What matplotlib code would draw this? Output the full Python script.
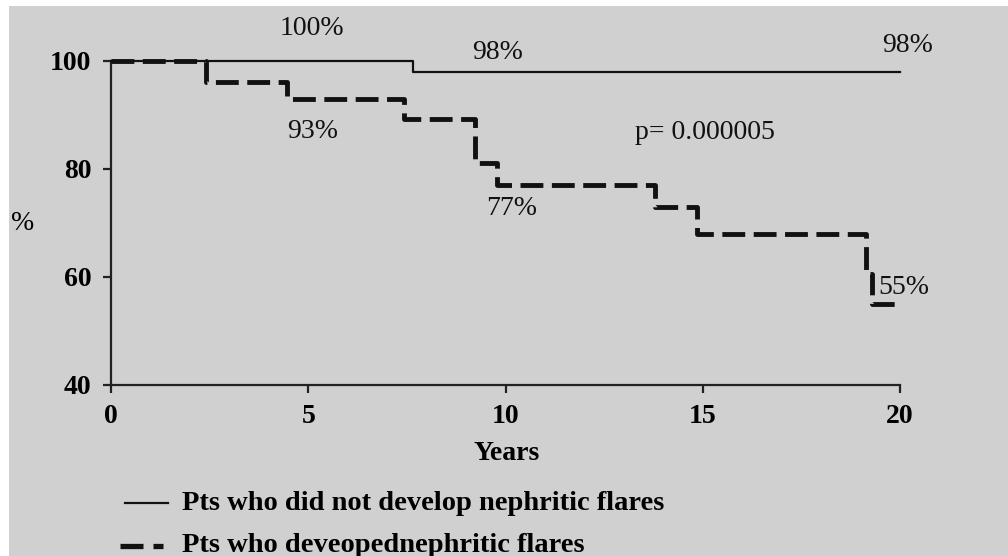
import matplotlib
matplotlib.use("Agg")
import matplotlib.pyplot as plt
from matplotlib.lines import Line2D
from matplotlib.patches import Rectangle

# Kaplan-Meier style survival data (years, % free of renal event)
no_flare_years = [0, 7.65, 20]
no_flare_pct = [100, 98, 98]

flare_years = [0, 2.42, 4.47, 7.43, 9.23, 9.78, 13.79, 14.85, 19.13, 19.30, 20]
flare_pct = [100, 96.2, 93, 89.2, 81.1, 77, 73, 68, 60.6, 55, 55]

x_ticks = [0, 5, 10, 15, 20]
y_ticks = [40, 60, 80, 100]

# value annotations: (text, year, y)
annotations = [
    ("100%", 5.1, 106.0),
    ("98%", 9.8, 101.6),
    ("98%", 20.2, 102.8),
    ("93%", 5.1, 87.0),
    ("77%", 10.15, 72.7),
    ("p= 0.000005", 15.05, 86.8),
    ("55%", 20.1, 58.0),
]

legend_labels = ["Pts who did not develop nephritic flares",
                 "Pts who deveopednephritic flares"]

W, H, DPI = 1008, 556, 100
BG = "#d0d0d0"
FS = 20
plt.rcParams["font.family"] = ["Liberation Serif", "DejaVu Serif"]

fig = plt.figure(figsize=(W / DPI, H / DPI), dpi=DPI, facecolor="white")
fig.patches.append(Rectangle((9 / W, 0), 1 - 9 / W, (H - 6) / H,
                             transform=fig.transFigure, facecolor=BG,
                             edgecolor="none", zorder=-10))


def fx(px):
    return px / W


def fy(py):
    return 1 - py / H


ax = fig.add_axes([fx(111), fy(385), fx(900) - fx(111), (385 - 61) / H])
ax.set_facecolor("none")
ax.set_xlim(0, 20)
ax.set_ylim(40, 100)

ax.step(no_flare_years, no_flare_pct, where="post", color="#111111",
        lw=1.6, clip_on=False, zorder=3)
ax.step(flare_years, flare_pct, where="post", color="#111111",
        lw=3.5, dashes=(4.7, 1.75), solid_capstyle="butt",
        dash_capstyle="butt", clip_on=False, zorder=4)

for side in ("top", "right"):
    ax.spines[side].set_visible(False)
for side in ("left", "bottom"):
    ax.spines[side].set_linewidth(1.6)
    ax.spines[side].set_color("#222222")

ax.set_xticks(x_ticks)
ax.set_yticks(y_ticks)
ax.tick_params(axis="both", direction="out", length=6, width=1.6,
               color="#222222", labelsize=FS)
ax.tick_params(axis="x", pad=8)
ax.tick_params(axis="y", pad=8)
for lab in ax.get_xticklabels() + ax.get_yticklabels():
    lab.set_fontweight("bold")

ax.set_xlabel("Years", fontsize=FS, fontweight="bold", va="center")
ax.xaxis.set_label_coords((507 - 111) / 789, (385 - 453) / 324)
ax.set_ylabel("%", fontsize=FS, rotation=0, ha="center", va="center")
ax.yaxis.set_label_coords((23 - 111) / 789, (385 - 224) / 324)

for txt, xv, yv in annotations:
    ax.text(xv, yv, txt, fontsize=FS, ha="center", va="center",
            color="#111111", clip_on=False)

# legend keys and labels
fig.add_artist(Line2D([fx(125), fx(168)], [fy(503), fy(503)],
                      transform=fig.transFigure, color="#111111", lw=1.6))
fig.add_artist(Line2D([fx(120), fx(143)], [fy(546), fy(546)],
                      transform=fig.transFigure, color="#111111", lw=3.8,
                      solid_capstyle="butt"))
fig.add_artist(Line2D([fx(153), fx(163)], [fy(546), fy(546)],
                      transform=fig.transFigure, color="#111111", lw=3.8,
                      solid_capstyle="butt"))
fig.text(fx(182), fy(503), legend_labels[0], fontsize=FS + 0.5,
         fontweight="bold", ha="left", va="center")
fig.text(fx(182), fy(545), legend_labels[1], fontsize=FS + 0.5,
         fontweight="bold", ha="left", va="center")

fig.savefig("out.png", dpi=DPI, facecolor=fig.get_facecolor())
